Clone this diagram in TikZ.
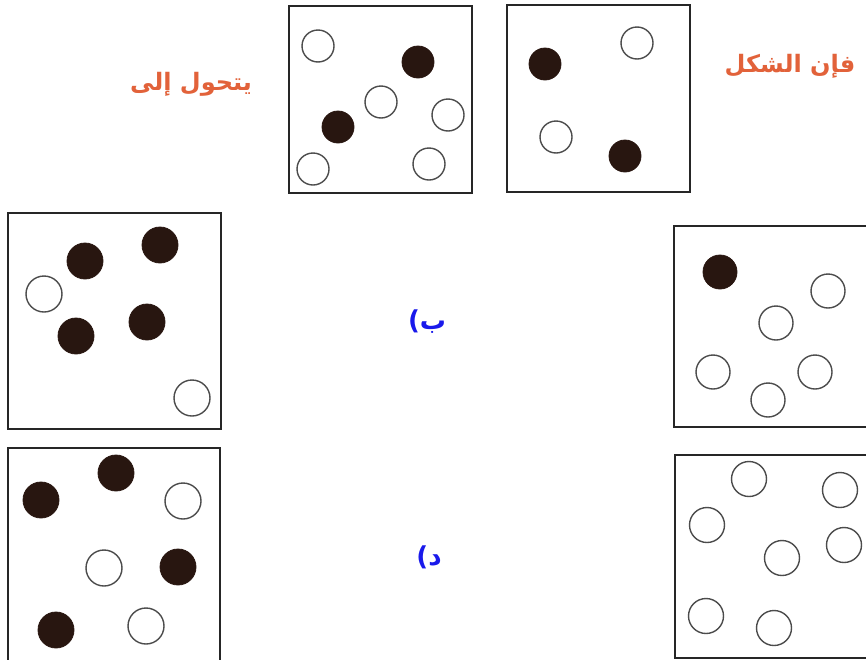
\documentclass[tikz,border=0pt]{standalone}
\usepackage{fontspec}
\TeXXeTstate=1
\newfontfamily\arabicfont[Script=Arabic]{DejaVu Sans}
\definecolor{labelorange}{RGB}{226,98,58}
\definecolor{labelblue}{RGB}{25,25,235}
\definecolor{ink}{RGB}{40,22,16}
\tikzset{
  panel/.style={draw=black!85, line width=1.5pt},
  opendot/.style={circle, draw=black!70, line width=1.4pt, fill=white, inner sep=0pt, minimum size=#1},
  fulldot/.style={circle, fill=ink, draw=ink, line width=0.8pt, inner sep=0pt, minimum size=#1},
  headtext/.style={text=labelorange, font=\arabicfont\bfseries\fontsize{24}{28}\selectfont},
  choicetext/.style={text=labelblue, font=\arabicfont\bfseries\fontsize{26}{30}\selectfont}
}
\begin{document}
\begin{tikzpicture}[x=1pt,y=-1pt]
\useasboundingbox (0,0) rectangle (866,659);
\clip (0,0) rectangle (866,659);
\fill[white] (0,0) rectangle (866,659);
% top boxes
\draw[panel] (289,6) rectangle (472,193);
\draw[panel] (507,5) rectangle (690,192);
\node[opendot=32pt] (a1) at (318,46) {};
\node[fulldot=32pt] (a2) at (418,62) {};
\node[opendot=32pt] (a3) at (381,102) {};
\node[opendot=32pt] (a4) at (448,115) {};
\node[fulldot=32pt] (a5) at (338,127) {};
\node[opendot=32pt] (a6) at (313,169) {};
\node[opendot=32pt] (a7) at (429,164) {};
\node[fulldot=32pt] (b1) at (545,64) {};
\node[opendot=32pt] (b2) at (637,43) {};
\node[opendot=32pt] (b3) at (556,137) {};
\node[fulldot=32pt] (b4) at (625,156) {};
\node[headtext] (t1) at (191,84) {\beginR يتحول إلى\endR};
\node[headtext] (t2) at (790,66) {\beginR فإن الشكل\endR};
% middle left
\draw[panel] (8,213) rectangle (221,429);
\node[fulldot=36pt] (c1) at (85,261) {};
\node[fulldot=36pt] (c2) at (160,245) {};
\node[opendot=36pt] (c3) at (44,294) {};
\node[fulldot=36pt] (c4) at (76,336) {};
\node[fulldot=36pt] (c5) at (147,322) {};
\node[opendot=36pt] (c6) at (192,398) {};
% middle right
\draw[panel] (674,226) rectangle (880,427);
\node[fulldot=34pt] (d1) at (720,272) {};
\node[opendot=34pt] (d2) at (828,291) {};
\node[opendot=34pt] (d3) at (776,323) {};
\node[opendot=34pt] (d4) at (713,372) {};
\node[opendot=34pt] (d5) at (815,372) {};
\node[opendot=34pt] (d6) at (768,400) {};
% bottom left
\draw[panel] (8,448) rectangle (220,670);
\node[fulldot=36pt] (e1) at (41,500) {};
\node[fulldot=36pt] (e2) at (116,473) {};
\node[opendot=36pt] (e3) at (183,501) {};
\node[opendot=36pt] (e4) at (104,568) {};
\node[fulldot=36pt] (e5) at (178,567) {};
\node[fulldot=36pt] (e6) at (56,630) {};
\node[opendot=36pt] (e7) at (146,626) {};
% bottom right
\draw[panel] (675,455) rectangle (880,658);
\node[opendot=35pt] (f1) at (749,479) {};
\node[opendot=35pt] (f2) at (840,490) {};
\node[opendot=35pt] (f3) at (707,525) {};
\node[opendot=35pt] (f4) at (844,545) {};
\node[opendot=35pt] (f5) at (782,558) {};
\node[opendot=35pt] (f6) at (706,616) {};
\node[opendot=35pt] (f7) at (774,628) {};
% choice labels
\node[choicetext] (g1) at (427,322) {\beginR ب)\endR};
\node[choicetext] (g2) at (429,557) {\beginR د)\endR};
\end{tikzpicture}
\end{document}
